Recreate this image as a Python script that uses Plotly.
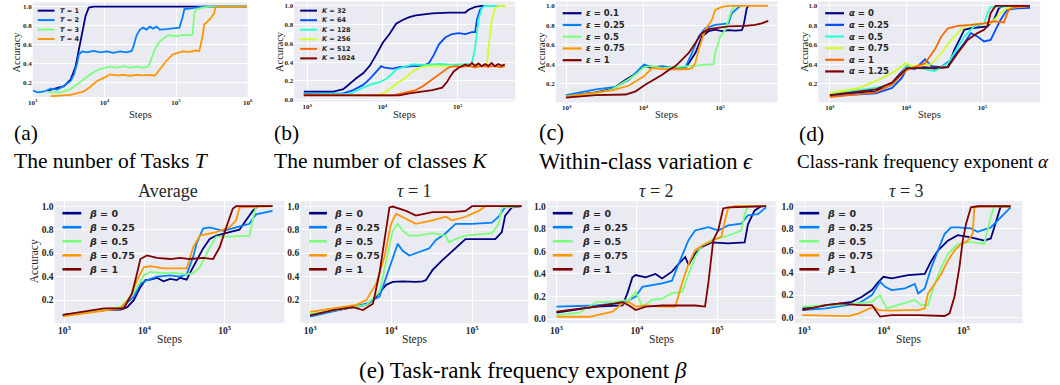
import numpy as np
import plotly.graph_objects as go

# ---------------- data: x = log10(training steps), y = accuracy ----------------
# (a) number of tasks T
a_labels = ["T = 1", "T = 2", "T = 3", "T = 4"]
a_x_T1 = [3.207, 3.437, 3.529, 3.598, 3.644, 3.690, 3.736, 3.782, 3.851, 5.991]
a_y_T1 = [0.12, 0.165, 0.235, 0.37, 0.55, 0.72, 0.90, 0.99, 1.0, 1.0]
a_x_T2 = [3.0, 3.069, 3.161, 3.253, 3.345, 3.437, 3.529, 3.575, 3.621, 3.644, 3.690, 3.759, 3.851, 3.943,
          4.035, 4.127, 4.220, 4.312, 4.381, 4.404, 4.450, 4.496, 4.542, 4.588, 4.634, 4.680, 4.726, 4.772,
          4.864, 4.956, 5.048, 5.094, 5.117, 5.186, 5.278, 5.370, 5.991]
a_y_T2 = [0.12, 0.10, 0.11, 0.14, 0.13, 0.17, 0.22, 0.29, 0.41, 0.50, 0.53, 0.52, 0.535, 0.52, 0.53, 0.515,
          0.53, 0.52, 0.535, 0.58, 0.70, 0.76, 0.78, 0.76, 0.79, 0.77, 0.79, 0.76, 0.765, 0.77, 0.78, 0.90,
          0.975, 0.98, 0.99, 1.0, 1.0]
a_x_T3 = [3.207, 3.391, 3.529, 3.667, 3.805, 3.920, 3.989, 4.081, 4.173, 4.266, 4.358, 4.450, 4.542, 4.611,
          4.634, 4.703, 4.772, 4.864, 4.910, 5.002, 5.094, 5.186, 5.232, 5.255, 5.278, 5.370, 5.462, 5.991]
a_y_T3 = [0.10, 0.10, 0.135, 0.21, 0.29, 0.34, 0.355, 0.37, 0.36, 0.375, 0.36, 0.37, 0.36, 0.37, 0.41, 0.55,
          0.635, 0.69, 0.70, 0.69, 0.705, 0.70, 0.71, 0.93, 0.97, 0.99, 1.0, 1.0]
a_x_T4 = [3.253, 3.529, 3.713, 3.805, 3.897, 3.989, 4.081, 4.173, 4.266, 4.358, 4.450, 4.542, 4.634, 4.703,
          4.772, 4.864, 4.956, 5.094, 5.186, 5.278, 5.324, 5.370, 5.393, 5.439, 5.485, 5.531, 5.554, 5.991]
a_y_T4 = [0.06, 0.075, 0.11, 0.16, 0.22, 0.25, 0.29, 0.28, 0.285, 0.275, 0.285, 0.28, 0.285, 0.275, 0.34,
          0.43, 0.50, 0.53, 0.525, 0.54, 0.535, 0.69, 0.81, 0.84, 0.88, 0.93, 1.0, 1.0]

# (b) number of classes K
b_labels = ["K = 32", "K = 64", "K = 128", "K = 256", "K = 512", "K = 1024"]
b_x_K32 = [2.956, 3.350, 3.481, 3.569, 3.656, 3.744, 3.832, 3.919, 4.007, 4.094, 4.182, 4.269, 4.357, 4.444,
           4.532, 4.663, 4.882, 5.101, 5.144, 5.232, 5.319, 5.363]
b_y_K32 = [0.084, 0.084, 0.11, 0.175, 0.23, 0.28, 0.36, 0.48, 0.61, 0.70, 0.81, 0.85, 0.88, 0.90, 0.91, 0.92,
           0.93, 0.93, 0.96, 0.99, 1.0, 1.0]
b_x_K64 = [2.956, 3.481, 3.613, 3.744, 3.832, 3.919, 3.985, 4.028, 4.138, 4.225, 4.400, 4.532, 4.619, 4.685,
           4.751, 4.838, 4.926, 5.013, 5.101, 5.188, 5.232, 5.254, 5.298, 5.341, 5.538]
b_y_K64 = [0.06, 0.065, 0.10, 0.156, 0.22, 0.30, 0.356, 0.34, 0.33, 0.345, 0.356, 0.356, 0.39, 0.48, 0.59,
           0.665, 0.70, 0.71, 0.70, 0.72, 0.72, 0.85, 0.96, 1.0, 1.0]
b_x_K128 = [2.956, 3.569, 3.700, 3.832, 3.963, 4.050, 4.116, 4.182, 4.269, 4.400, 4.575, 4.751, 4.926, 5.101,
            5.188, 5.232, 5.276, 5.319, 5.363, 5.626]
b_y_K128 = [0.055, 0.06, 0.11, 0.156, 0.185, 0.22, 0.265, 0.32, 0.345, 0.375, 0.37, 0.38, 0.37, 0.38, 0.38,
            0.556, 0.85, 0.975, 1.0, 1.0]
b_x_K256 = [2.956, 3.963, 4.050, 4.138, 4.225, 4.313, 4.400, 4.488, 4.575, 4.751, 4.926, 5.101, 5.276, 5.385,
            5.407, 5.451, 5.495, 5.538, 5.626]
b_y_K256 = [0.05, 0.05, 0.084, 0.14, 0.19, 0.236, 0.30, 0.34, 0.356, 0.36, 0.355, 0.365, 0.36, 0.36, 0.52,
            0.85, 0.975, 1.0, 1.0]
b_x_K512 = [2.956, 3.700, 3.788, 4.138, 4.313, 4.444, 4.532, 4.619, 4.707, 4.794, 4.882, 4.969, 5.057, 5.144,
            5.232, 5.319, 5.407, 5.495, 5.560, 5.626]
b_y_K512 = [0.05, 0.045, 0.04, 0.045, 0.076, 0.10, 0.14, 0.19, 0.25, 0.30, 0.345, 0.356, 0.35, 0.36, 0.345,
            0.36, 0.35, 0.36, 0.345, 0.355]
b_x_K1024 = [2.956, 4.225, 4.357, 4.532, 4.663, 4.794, 4.860, 4.904, 4.947, 5.013, 5.101, 5.144, 5.188, 5.232,
             5.276, 5.319, 5.363, 5.407, 5.451, 5.495, 5.538, 5.582, 5.626]
b_y_K1024 = [0.045, 0.045, 0.065, 0.084, 0.10, 0.127, 0.19, 0.25, 0.30, 0.34, 0.375, 0.36, 0.39, 0.36, 0.385,
             0.355, 0.38, 0.36, 0.39, 0.355, 0.38, 0.36, 0.375]

# (c) within-class variation epsilon
c_labels = ["ε = 0.1", "ε = 0.25", "ε = 0.5", "ε = 0.75", "ε = 1"]
c_x_e01 = [2.991, 3.380, 3.596, 3.769, 3.898, 4.006, 4.114, 4.244, 4.417, 4.546, 4.590, 4.676, 4.762, 4.849,
           4.935, 5.022, 5.108, 5.194, 5.281, 5.302, 5.346, 5.367]
c_y_e01 = [0.07, 0.11, 0.145, 0.24, 0.30, 0.38, 0.36, 0.37, 0.36, 0.365, 0.41, 0.515, 0.685, 0.74, 0.755, 0.74,
           0.75, 0.745, 0.75, 0.79, 0.976, 1.0]
c_x_e025 = [2.991, 3.380, 3.639, 3.812, 4.006, 4.114, 4.244, 4.417, 4.546, 4.633, 4.719, 4.806, 4.935, 5.108,
            5.151, 5.216, 5.259, 5.281]
c_y_e025 = [0.08, 0.14, 0.165, 0.24, 0.395, 0.37, 0.38, 0.36, 0.37, 0.515, 0.685, 0.77, 0.805, 0.82, 0.925,
            0.976, 1.0, 1.0]
c_x_e05 = [2.991, 3.380, 3.596, 3.769, 3.898, 4.006, 4.114, 4.244, 4.417, 4.590, 4.762, 4.849, 4.914, 4.935,
           5.000, 5.065, 5.108, 5.151, 5.194, 5.281]
c_y_e05 = [0.07, 0.10, 0.14, 0.23, 0.29, 0.37, 0.38, 0.36, 0.37, 0.38, 0.39, 0.40, 0.40, 0.515, 0.685, 0.755,
           0.856, 0.96, 1.0, 1.0]
c_x_e075 = [2.991, 3.596, 3.812, 3.942, 4.006, 4.114, 4.244, 4.417, 4.590, 4.633, 4.676, 4.719, 4.806, 4.892,
            4.935, 5.022, 5.108, 5.626]
c_y_e075 = [0.065, 0.13, 0.18, 0.24, 0.275, 0.36, 0.35, 0.345, 0.35, 0.36, 0.41, 0.55, 0.755, 0.856, 0.96,
            0.99, 1.0, 1.0]
c_x_e1 = [2.991, 3.380, 3.769, 3.898, 4.028, 4.158, 4.244, 4.330, 4.417, 4.503, 4.590, 4.676, 4.762, 4.849,
          4.935, 5.108, 5.324, 5.454, 5.540, 5.626]
c_y_e1 = [0.055, 0.08, 0.087, 0.12, 0.19, 0.25, 0.29, 0.34, 0.38, 0.446, 0.515, 0.617, 0.72, 0.76, 0.77, 0.79,
          0.795, 0.805, 0.82, 0.846]

# (d) class-rank frequency exponent alpha
d_labels = ["α = 0", "α = 0.25", "α = 0.5", "α = 0.75", "α = 1", "α = 1.25"]
d_x_a0 = [3.0, 3.602, 3.817, 4.011, 4.118, 4.247, 4.376, 4.548, 4.634, 4.763, 4.849, 5.065, 5.151, 5.215,
          5.280, 5.624]
d_y_a0 = [0.08, 0.12, 0.21, 0.38, 0.36, 0.37, 0.355, 0.37, 0.55, 0.755, 0.77, 0.79, 0.856, 0.976, 1.0, 1.0]
d_x_a025 = [3.0, 3.602, 3.817, 3.946, 4.011, 4.118, 4.247, 4.333, 4.462, 4.591, 4.763, 4.849, 4.935, 5.022,
            5.108, 5.151, 5.237, 5.323, 5.452, 5.624]
d_y_a025 = [0.07, 0.10, 0.155, 0.26, 0.36, 0.35, 0.45, 0.38, 0.37, 0.446, 0.617, 0.72, 0.685, 0.634, 0.65,
            0.72, 0.856, 0.96, 0.976, 0.98]
d_x_a05 = [3.0, 3.817, 4.011, 4.118, 4.247, 4.376, 4.548, 4.763, 4.892, 5.022, 5.065, 5.108, 5.624]
d_y_a05 = [0.09, 0.18, 0.38, 0.36, 0.35, 0.33, 0.41, 0.685, 0.79, 0.82, 0.925, 0.99, 1.0]
d_x_a075 = [3.0, 3.387, 3.645, 3.817, 3.946, 3.989, 4.075, 4.333, 4.462, 4.591, 4.677, 4.763, 4.935, 5.108,
            5.237, 5.323, 5.624]
d_y_a075 = [0.10, 0.155, 0.24, 0.31, 0.38, 0.41, 0.38, 0.40, 0.515, 0.65, 0.72, 0.79, 0.815, 0.82, 0.925,
            0.976, 1.0]
d_x_a1 = [3.0, 3.602, 3.817, 3.989, 4.075, 4.247, 4.376, 4.462, 4.548, 4.677, 4.849, 5.022, 5.151, 5.280,
          5.344, 5.409, 5.624]
d_y_a1 = [0.06, 0.11, 0.19, 0.33, 0.36, 0.41, 0.55, 0.685, 0.77, 0.795, 0.805, 0.82, 0.84, 0.83, 0.96, 0.986,
          1.0]
d_x_a125 = [3.0, 3.602, 3.817, 4.011, 4.247, 4.548, 4.677, 4.806, 4.935, 5.022, 5.065, 5.108, 5.172, 5.624]
d_y_a125 = [0.08, 0.14, 0.21, 0.36, 0.36, 0.37, 0.515, 0.65, 0.72, 0.755, 0.79, 0.925, 1.0, 1.0]

# (e) task-rank frequency exponent beta: Average, tau = 1, 2, 3
e_labels = ["β = 0", "β = 0.25", "β = 0.5", "β = 0.75", "β = 1"]
avg_x_b0 = [2.979, 3.495, 3.701, 3.784, 3.866, 3.948, 4.010, 4.072, 4.155, 4.237, 4.320, 4.402, 4.443, 4.526,
            4.567, 4.649, 4.732, 4.814, 4.897, 5.062, 5.186, 5.268, 5.351, 5.412, 5.598]
avg_y_b0 = [0.073, 0.115, 0.12, 0.14, 0.20, 0.31, 0.37, 0.375, 0.39, 0.36, 0.38, 0.37, 0.39, 0.375, 0.43, 0.54,
            0.64, 0.72, 0.75, 0.78, 0.80, 0.88, 0.96, 1.0, 1.0]
avg_x_b025 = [2.979, 3.701, 3.866, 3.948, 4.031, 4.155, 4.320, 4.443, 4.526, 4.608, 4.649, 4.732, 4.814, 4.979,
              5.144, 5.309, 5.392, 5.598]
avg_y_b025 = [0.075, 0.13, 0.23, 0.34, 0.37, 0.40, 0.41, 0.40, 0.42, 0.57, 0.68, 0.81, 0.82, 0.79, 0.82, 0.85,
              0.93, 0.96]
avg_x_b05 = [2.979, 3.701, 3.866, 3.990, 4.072, 4.237, 4.402, 4.526, 4.608, 4.691, 4.814, 4.897, 5.062, 5.309,
             5.351, 5.392, 5.598]
avg_y_b05 = [0.065, 0.14, 0.26, 0.41, 0.44, 0.43, 0.43, 0.42, 0.43, 0.48, 0.65, 0.74, 0.74, 0.75, 0.88, 1.0, 1.0]
avg_x_b075 = [2.979, 3.701, 3.825, 3.907, 3.990, 4.072, 4.237, 4.402, 4.526, 4.608, 4.691, 4.897, 5.062, 5.144,
              5.186, 5.598]
avg_y_b075 = [0.062, 0.13, 0.23, 0.37, 0.48, 0.49, 0.47, 0.47, 0.47, 0.65, 0.75, 0.78, 0.82, 0.88, 0.99, 1.0]
avg_x_b1 = [2.979, 3.495, 3.742, 3.845, 3.907, 3.948, 4.031, 4.155, 4.320, 4.443, 4.567, 4.732, 4.856, 4.938,
            5.021, 5.103, 5.144, 5.598]
avg_y_b1 = [0.075, 0.13, 0.13, 0.26, 0.43, 0.55, 0.58, 0.56, 0.55, 0.56, 0.55, 0.56, 0.55, 0.65, 0.82, 0.98, 1.0,
            1.0]

t1_x_b0 = [3.0, 3.490, 3.694, 3.776, 3.857, 3.939, 4.020, 4.143, 4.306, 4.388, 4.429, 4.510, 4.633, 4.755, 4.918,
           5.122, 5.286, 5.367, 5.408, 5.490, 5.612]
t1_y_b0 = [0.073, 0.13, 0.16, 0.20, 0.26, 0.33, 0.355, 0.36, 0.355, 0.36, 0.37, 0.455, 0.54, 0.62, 0.72, 0.72,
           0.72, 0.78, 0.92, 0.99, 1.0]
t1_x_b025 = [3.0, 3.694, 3.857, 3.939, 4.020, 4.082, 4.143, 4.224, 4.347, 4.469, 4.551, 4.673, 4.796, 5.0, 5.245,
             5.327, 5.408, 5.612]
t1_y_b025 = [0.06, 0.17, 0.23, 0.40, 0.57, 0.68, 0.62, 0.58, 0.61, 0.64, 0.71, 0.77, 0.85, 0.85, 0.86, 0.91,
             0.99, 1.0]
t1_x_b05 = [3.0, 3.694, 3.857, 3.939, 4.020, 4.082, 4.143, 4.224, 4.347, 4.510, 4.673, 4.714, 4.796, 4.918, 5.245,
            5.327, 5.367, 5.612]
t1_y_b05 = [0.08, 0.16, 0.27, 0.54, 0.79, 0.85, 0.79, 0.75, 0.75, 0.77, 0.75, 0.69, 0.72, 0.75, 0.77, 0.85, 0.99,
            1.0]
t1_x_b075 = [3.0, 3.286, 3.571, 3.694, 3.816, 3.918, 4.0, 4.061, 4.184, 4.306, 4.510, 4.673, 4.755, 4.918, 5.082,
             5.163, 5.612]
t1_y_b075 = [0.10, 0.13, 0.16, 0.20, 0.34, 0.57, 0.85, 0.935, 0.89, 0.85, 0.88, 0.91, 0.88, 0.91, 0.96, 1.0, 1.0]
t1_x_b1 = [3.0, 3.286, 3.531, 3.653, 3.776, 3.857, 3.918, 3.980, 4.020, 4.184, 4.306, 4.510, 4.755, 4.918, 5.0,
           5.612]
t1_y_b1 = [0.07, 0.115, 0.14, 0.115, 0.17, 0.43, 0.71, 0.99, 0.997, 0.96, 0.92, 0.95, 0.95, 0.96, 1.0, 1.0]

t2_x_b0 = [3.0, 3.493, 3.821, 3.883, 3.945, 3.986, 4.109, 4.232, 4.314, 4.437, 4.520, 4.602, 4.643, 4.725, 4.807,
           4.930, 5.136, 5.341, 5.382, 5.464, 5.546, 5.608]
t2_y_b0 = [0.056, 0.11, 0.12, 0.23, 0.37, 0.39, 0.37, 0.40, 0.36, 0.42, 0.49, 0.55, 0.48, 0.58, 0.64, 0.68, 0.67,
           0.68, 0.84, 0.96, 1.0, 1.0]
t2_x_b025 = [3.0, 3.493, 3.780, 3.903, 3.986, 4.068, 4.314, 4.437, 4.520, 4.643, 4.725, 4.889, 5.012, 5.136,
             5.300, 5.382, 5.505, 5.608]
t2_y_b025 = [0.11, 0.12, 0.14, 0.17, 0.20, 0.285, 0.315, 0.34, 0.49, 0.70, 0.785, 0.815, 0.785, 0.83, 0.845,
             0.92, 0.93, 0.99]
t2_x_b05 = [3.0, 3.287, 3.493, 3.698, 3.903, 3.986, 4.068, 4.191, 4.314, 4.437, 4.561, 4.643, 4.725, 4.807, 4.930,
            5.136, 5.300, 5.341, 5.382, 5.608]
t2_y_b05 = [0.035, 0.056, 0.15, 0.15, 0.17, 0.24, 0.11, 0.17, 0.18, 0.23, 0.24, 0.40, 0.55, 0.65, 0.70, 0.74,
            0.785, 0.93, 1.0, 1.0]
t2_x_b075 = [3.0, 3.411, 3.698, 3.821, 3.903, 3.986, 4.109, 4.314, 4.478, 4.561, 4.643, 4.725, 4.807, 4.971,
             5.053, 5.094, 5.136, 5.218, 5.608]
t2_y_b075 = [0.02, 0.02, 0.065, 0.14, 0.15, 0.11, 0.12, 0.11, 0.11, 0.315, 0.49, 0.61, 0.65, 0.70, 0.73, 0.87,
             0.98, 1.0, 1.0]
t2_x_b1 = [3.0, 3.493, 3.821, 3.903, 3.986, 4.109, 4.314, 4.520, 4.725, 4.848, 4.889, 4.951, 5.012, 5.074, 5.136,
           5.608]
t2_y_b1 = [0.065, 0.11, 0.15, 0.12, 0.08, 0.11, 0.12, 0.12, 0.12, 0.11, 0.315, 0.70, 0.785, 0.98, 0.99, 1.0]

t3_x_b0 = [2.979, 3.270, 3.602, 3.726, 3.851, 3.934, 3.996, 4.100, 4.307, 4.515, 4.598, 4.680, 4.805, 4.929,
           5.095, 5.261, 5.344, 5.427, 5.469, 5.593]
t3_y_b0 = [0.08, 0.11, 0.14, 0.185, 0.245, 0.32, 0.365, 0.35, 0.38, 0.39, 0.51, 0.60, 0.69, 0.74, 0.72, 0.69,
           0.71, 0.90, 1.0, 1.0]
t3_x_b025 = [2.979, 3.270, 3.685, 3.851, 3.954, 4.017, 4.100, 4.266, 4.390, 4.432, 4.515, 4.598, 4.680, 4.763,
             4.846, 4.929, 5.095, 5.178, 5.344, 5.427, 5.593]
t3_y_b025 = [0.065, 0.08, 0.125, 0.20, 0.32, 0.275, 0.245, 0.26, 0.30, 0.215, 0.26, 0.45, 0.60, 0.75, 0.81,
             0.81, 0.80, 0.77, 0.81, 0.87, 0.99]
t3_x_b05 = [2.979, 3.685, 3.851, 3.954, 4.037, 4.183, 4.390, 4.473, 4.556, 4.639, 4.722, 4.805, 4.929, 5.095,
            5.261, 5.344, 5.386, 5.593]
t3_y_b05 = [0.095, 0.125, 0.14, 0.20, 0.08, 0.11, 0.155, 0.11, 0.11, 0.30, 0.45, 0.57, 0.66, 0.68, 0.66, 0.90,
            1.0, 1.0]
t3_x_b075 = [2.979, 3.560, 3.685, 3.809, 3.871, 3.934, 4.100, 4.266, 4.432, 4.515, 4.556, 4.639, 4.722, 4.805,
             4.888, 4.971, 5.054, 5.116, 5.137, 5.220, 5.593]
t3_y_b075 = [0.02, 0.01, 0.036, 0.08, 0.095, 0.065, 0.06, 0.065, 0.065, 0.08, 0.215, 0.30, 0.39, 0.51, 0.60,
             0.66, 0.69, 0.75, 0.99, 1.0, 1.0]
t3_x_b1 = [2.979, 3.270, 3.477, 3.685, 3.851, 3.954, 4.100, 4.432, 4.763, 4.826, 4.888, 4.950, 4.992, 5.033,
           5.095, 5.178, 5.593]
t3_y_b1 = [0.065, 0.11, 0.125, 0.11, 0.11, 0.006, 0.02, 0.02, 0.012, 0.036, 0.185, 0.45, 0.69, 0.84, 0.99, 1.0,
           1.0]

x_tick_vals = [1e3, 1e4, 1e5, 1e6]
x_tick_text = ["10<sup>3</sup>", "10<sup>4</sup>", "10<sup>5</sup>", "10<sup>6</sup>"]

# ---------------- styling ----------------
W, H = 1060, 385
JET5 = ["#000080", "#0080ff", "#7cff7c", "#ff9700", "#800000"]
JET6 = ["#000080", "#004dff", "#29ffce", "#ceff29", "#ff6800", "#800000"]
BG = "#eaeaf2"
TXT = "#262626"
SERIF = "Liberation Serif"
SANS = "DejaVu Sans"


def X(px):
    return px / W


def Y(py):
    return 1 - py / H


def fmt_label(s):
    var, rest = s.split(" = ")
    return "<b><i>%s</i> = %s</b>" % (var, rest)


panels = [
    dict(series=[(a_x_T1, a_y_T1), (a_x_T2, a_y_T2), (a_x_T3, a_y_T3), (a_x_T4, a_y_T4)],
         labels=a_labels, colors=JET5[:4], xd=(28, 245), yd=(2.5, 97.5), xr=(3.0, 6.0), yr=(0.052, 1.044),
         yt=[0.2, 0.4, 0.6, 0.8, 1.0], tick=7, leg=(33, 50, 53, 10.7, 9.5, 6.5, 2.0), ylab=12, yl_y=52,
         steps_y=115, lab=10.5),
    dict(series=[(b_x_K32, b_y_K32), (b_x_K64, b_y_K64), (b_x_K128, b_y_K128), (b_x_K256, b_y_K256),
                 (b_x_K512, b_y_K512), (b_x_K1024, b_y_K1024)],
         labels=b_labels, colors=JET6, xd=(292, 515), yd=(1.5, 102), xr=(2.829, 5.763), yr=(-0.021, 1.048),
         yt=[0.0, 0.2, 0.4, 0.6, 0.8, 1.0], tick=7, leg=(298, 315, 318, 10.7, 9.6, 6.5, 2.0), ylab=277, yl_y=52,
         steps_y=115, lab=10.5),
    dict(series=[(c_x_e01, c_y_e01), (c_x_e025, c_y_e025), (c_x_e05, c_y_e05), (c_x_e075, c_y_e075),
                 (c_x_e1, c_y_e1)],
         labels=c_labels, colors=JET5, xd=(556, 780), yd=(1.5, 103), xr=(2.858, 5.748), yr=(0.005, 1.046),
         yt=[0.2, 0.4, 0.6, 0.8, 1.0], tick=7, leg=(563, 582, 585, 13.3, 11.8, 8.5, 2.2), ylab=542, yl_y=52,
         steps_y=115, lab=10.5),
    dict(series=[(d_x_a0, d_y_a0), (d_x_a025, d_y_a025), (d_x_a05, d_y_a05), (d_x_a075, d_y_a075),
                 (d_x_a1, d_y_a1), (d_x_a125, d_y_a125)],
         labels=d_labels, colors=JET6, xd=(821, 1045), yd=(1.5, 103), xr=(2.848, 5.757), yr=(0.005, 1.046),
         yt=[0.2, 0.4, 0.6, 0.8, 1.0], tick=7, leg=(828, 847, 850, 13.3, 11.7, 8.5, 2.2), ylab=807, yl_y=52,
         steps_y=115, lab=10.5),
    dict(series=[(avg_x_b0, avg_y_b0), (avg_x_b025, avg_y_b025), (avg_x_b05, avg_y_b05),
                 (avg_x_b075, avg_y_b075), (avg_x_b1, avg_y_b1)],
         labels=e_labels, colors=JET5, xd=(50, 282), yd=(202.3, 325), xr=(2.876, 5.746), yr=(0.0025, 1.042),
         yt=[0.2, 0.4, 0.6, 0.8, 1.0], tick=9.5, leg=(58, 77, 83, 214.3, 14.1, 9.5, 2.6), ylab=30, yl_y=263,
         steps_y=341, lab=11.5, title="Average", tx=165),
    dict(series=[(t1_x_b0, t1_y_b0), (t1_x_b025, t1_y_b025), (t1_x_b05, t1_y_b05), (t1_x_b075, t1_y_b075),
                 (t1_x_b1, t1_y_b1)],
         labels=e_labels, colors=JET5, xd=(298, 528), yd=(202.3, 325), xr=(2.878, 5.69), yr=(0.0025, 1.042),
         yt=[0.2, 0.4, 0.6, 0.8, 1.0], tick=9.5, leg=(307, 325, 330, 214.3, 14.1, 9.5, 2.6), ylab=None,
         steps_y=341, lab=11.5, title="<i>τ</i> = 1", tx=413),
    dict(series=[(t2_x_b0, t2_y_b0), (t2_x_b025, t2_y_b025), (t2_x_b05, t2_y_b05), (t2_x_b075, t2_y_b075),
                 (t2_x_b1, t2_y_b1)],
         labels=e_labels, colors=JET5, xd=(547, 778), yd=(202.3, 325), xr=(2.88, 5.727), yr=(-0.038, 1.044),
         yt=[0.0, 0.2, 0.4, 0.6, 0.8, 1.0], tick=9.5, leg=(553, 573, 580, 214.3, 14.1, 9.5, 2.6), ylab=None,
         steps_y=341, lab=11.5, title="<i>τ</i> = 2", tx=658),
    dict(series=[(t3_x_b0, t3_y_b0), (t3_x_b025, t3_y_b025), (t3_x_b05, t3_y_b05), (t3_x_b075, t3_y_b075),
                 (t3_x_b1, t3_y_b1)],
         labels=e_labels, colors=JET5, xd=(797, 1027), yd=(202.3, 325), xr=(2.879, 5.74), yr=(-0.054, 1.045),
         yt=[0.0, 0.2, 0.4, 0.6, 0.8, 1.0], tick=9.5, leg=(802, 822, 828, 214.3, 14.1, 9.5, 2.6), ylab=None,
         steps_y=341, lab=11.5, title="<i>τ</i> = 3", tx=910),
]

fig = go.Figure()
shapes = []
annotations = []
layout_axes = {}

for i, p in enumerate(panels):
    sfx = "" if i == 0 else str(i + 1)
    xa, ya = "x" + sfx, "y" + sfx
    for (xs, ys), color, name in zip(p["series"], p["colors"], p["labels"]):
        assert len(xs) == len(ys)
        fig.add_trace(go.Scatter(x=np.power(10.0, np.array(xs)), y=ys, mode="lines", name=name,
                                 line=dict(color=color, width=1.8), xaxis=xa, yaxis=ya,
                                 showlegend=False, hoverinfo="skip"))
    tv = [v for v in x_tick_vals if p["xr"][0] <= np.log10(v) <= p["xr"][1] + 1e-6]
    tt = [x_tick_text[x_tick_vals.index(v)] for v in tv]
    layout_axes["xaxis" + sfx] = dict(
        type="log", range=list(p["xr"]), domain=[X(p["xd"][0]), X(p["xd"][1])], anchor=ya,
        tickmode="array", tickvals=tv, ticktext=tt, showgrid=True, gridcolor="white", gridwidth=1,
        zeroline=False, showline=False, ticks="", fixedrange=True,
        tickfont=dict(family=SERIF, size=p["tick"], color=TXT, weight="bold"))
    layout_axes["yaxis" + sfx] = dict(
        range=list(p["yr"]), domain=[Y(p["yd"][1]), Y(p["yd"][0])], anchor=xa,
        tickmode="array", tickvals=p["yt"], ticktext=["%.1f" % v for v in p["yt"]],
        showgrid=True, gridcolor="white", gridwidth=1, zeroline=False, showline=False, ticks="",
        fixedrange=True, tickfont=dict(family=SERIF, size=p["tick"], color=TXT, weight="bold"))

    # legend (drawn as line samples + labels)
    lx0, lx1, tx0, ly0, ldy, lfs, lw = p["leg"]
    for j, (name, color) in enumerate(zip(p["labels"], p["colors"])):
        yy = ly0 + j * ldy
        shapes.append(dict(type="line", xref="paper", yref="paper", x0=X(lx0), x1=X(lx1), y0=Y(yy), y1=Y(yy),
                           line=dict(color=color, width=lw)))
        annotations.append(dict(text=fmt_label(name), x=X(tx0), y=Y(yy), xref="paper", yref="paper",
                                xanchor="left", yanchor="middle", showarrow=False,
                                font=dict(family=SANS, size=lfs, color=TXT)))
    # axis labels
    annotations.append(dict(text="Steps", x=X((p["xd"][0] + p["xd"][1]) / 2), y=Y(p["steps_y"]),
                            xref="paper", yref="paper", xanchor="center", yanchor="middle", showarrow=False,
                            font=dict(family=SERIF, size=p["lab"], color=TXT)))
    if p.get("ylab") is not None:
        annotations.append(dict(text="Accuracy", x=X(p["ylab"]), y=Y(p["yl_y"]), xref="paper", yref="paper",
                                xanchor="center", yanchor="middle", showarrow=False, textangle=-90,
                                font=dict(family=SERIF, size=p["lab"], color=TXT)))
    if p.get("title"):
        annotations.append(dict(text=p["title"], x=X(p["tx"]), y=Y(192), xref="paper", yref="paper",
                                xanchor="center", yanchor="middle", showarrow=False,
                                font=dict(family=SERIF, size=18, color=TXT)))

# sub-figure captions (two-line blocks)
captions = [
    ("(a)<br>The nunber of Tasks <i>T</i>", 7, 148, 21.5),
    ("(b)<br>The number of classes <i>K</i>", 270, 148, 21.5),
    ("(c)<br>Within-class variation <i>ϵ</i>", 537, 148, 22.5),
]
for text, cx, cy, fs in captions:
    annotations.append(dict(text=text, x=X(cx), y=Y(cy), xref="paper", yref="paper", xanchor="left",
                            yanchor="middle", align="left", showarrow=False,
                            font=dict(family=SERIF, size=fs, color="black")))
annotations.append(dict(text="(d)", x=X(800), y=Y(135), xref="paper", yref="paper", xanchor="left",
                        yanchor="middle", showarrow=False, font=dict(family=SERIF, size=21.5, color="black")))
annotations.append(dict(text="Class-rank frequency exponent <i>α</i>", x=X(798), y=Y(162), xref="paper",
                        yref="paper", xanchor="left", yanchor="middle", showarrow=False,
                        font=dict(family=SERIF, size=19, color="black")))
annotations.append(dict(text="(e) Task-rank frequency exponent <i>β</i>", x=X(523), y=Y(372), xref="paper",
                        yref="paper", xanchor="center", yanchor="middle", showarrow=False,
                        font=dict(family=SERIF, size=23, color="black")))

fig.update_layout(
    width=W, height=H, margin=dict(l=0, r=0, t=0, b=0), autosize=False,
    paper_bgcolor="white", plot_bgcolor=BG, showlegend=False,
    shapes=shapes, annotations=annotations, **layout_axes)

fig.write_html("out.html", config={"displayModeBar": False})
